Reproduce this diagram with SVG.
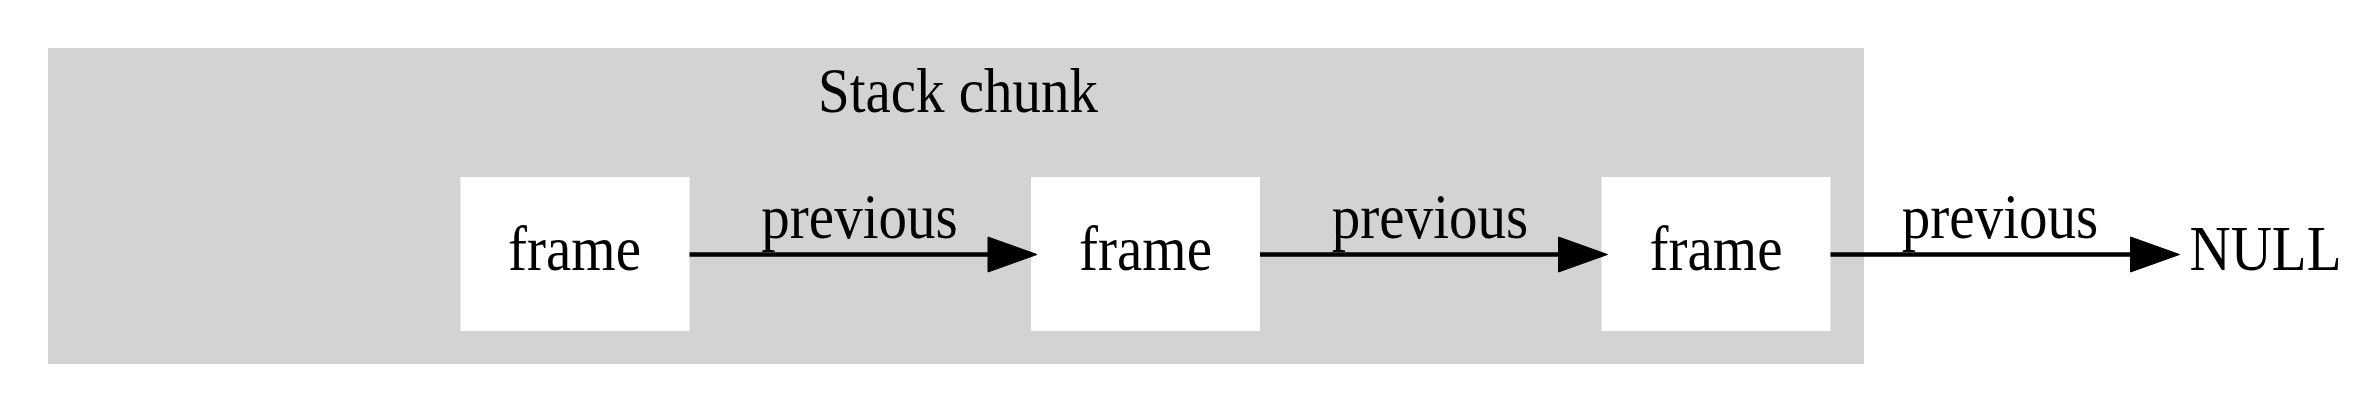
<svg xmlns="http://www.w3.org/2000/svg" width="2358" height="412" viewBox="0 0 2358 412">
<style>
text{font-family:"Liberation Serif","Times New Roman",serif;font-size:57px;fill:#000;text-anchor:middle}
.node{fill:#fff;stroke:none}
.edge{stroke:#000;stroke-width:4.6;fill:none}
.head{fill:#000;stroke:#000;stroke-width:1;stroke-linejoin:miter}
</style>
<rect width="2358" height="412" fill="#fff"/>
<g id="cluster_stack_chunk">
<rect x="48" y="48" width="1816" height="316" fill="#d3d3d3"/>
<text transform="translate(958 112) scale(1 1.1)">Stack chunk</text>
</g>
<g id="frame1">
<rect class="node" x="460.5" y="177" width="229" height="154"/>
<text transform="translate(574.5 270) scale(1 1.1)">frame</text>
</g>
<g id="frame2">
<rect class="node" x="1031" y="177" width="229" height="154"/>
<text transform="translate(1145.5 270) scale(1 1.1)">frame</text>
</g>
<g id="frame3">
<rect class="node" x="1601.5" y="177" width="229" height="154"/>
<text transform="translate(1716 270) scale(1 1.1)">frame</text>
</g>
<g id="null">
<text transform="translate(2265.5 270) scale(1 1.1)">NULL</text>
</g>
<g id="connectors">
<g id="e1">
<line class="edge" x1="689.5" y1="254.5" x2="990" y2="254.5"/>
<polygon class="head" points="988,237 1037,254.5 988,272"/>
<text transform="translate(859.5 238) scale(1 1.1)">previous</text>
</g>
<g id="e2">
<line class="edge" x1="1260" y1="254.5" x2="1560" y2="254.5"/>
<polygon class="head" points="1558.5,237 1607.5,254.5 1558.5,272"/>
<text transform="translate(1430 238) scale(1 1.1)">previous</text>
</g>
<g id="e3">
<line class="edge" x1="1830.5" y1="254.5" x2="2132" y2="254.5"/>
<polygon class="head" points="2130.5,237 2179.5,254.5 2130.5,272"/>
<text transform="translate(2000 238) scale(1 1.1)">previous</text>
</g>
</g>
</svg>
